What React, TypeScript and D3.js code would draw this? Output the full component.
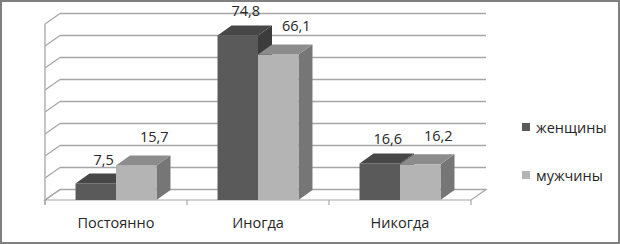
import React from "react";
import * as d3 from "d3";

const categories = ["Постоянно", "Иногда", "Никогда"];
const seriesNames = ["женщины", "мужчины"];
const womenValues = [7.5, 74.8, 16.6];
const menValues = [15.7, 66.1, 16.2];
const yTicks = [0, 10, 20, 30, 40, 50, 60, 70, 80];

const W = 620;
const H = 244;
const FONT = "'Open Sans', 'Noto Sans', sans-serif";

// colours per series: front, top, side
const palette = [
  { front: "#5a5a5a", top: "#474747", side: "#3c3c3c" },
  { front: "#b4b4b4", top: "#8c8c8c", side: "#767676" },
];
const labelShiftX = [8, 18];
const labelShiftY = [19, 23.5];

export default function App() {
  const series = [womenValues, menValues];
  const floorX0 = 45;
  const floorX1 = 471;
  const floorDx = 15;
  const floorDy = 10.5;
  const barDx = 14;
  const barDy = 10;

  const x0 = d3.scaleBand<string>().domain(categories).range([floorX0, floorX1]);
  const band = x0.bandwidth();
  const barW = band * 0.285;
  const x1 = d3
    .scaleBand<string>()
    .domain(seriesNames)
    .range([band / 2 - barW, band / 2 + barW]);
  const y = d3.scaleLinear().domain([0, 80]).range([200, 24]);

  const pts = (arr: number[][]) => arr.map((p) => p.join(",")).join(" ");

  const tickXs = [floorX0, ...categories.map((c) => (x0(c) as number) + band)];

  return (
    <div style={{ position: "fixed", left: 0, top: 0, width: W, height: H, background: "#fff" }}>
      <svg width={W} height={H} style={{ display: "block" }}>
        <rect x={0} y={0} width={W} height={H} fill="#fff" />
        {/* floor */}
        <polygon
          points={pts([
            [floorX0, y(0)],
            [floorX1, y(0)],
            [floorX1 + floorDx, y(0) - floorDy],
            [floorX0 + floorDx, y(0) - floorDy],
          ])}
          fill="#fff"
          stroke="#a6a6a6"
          strokeWidth={1.2}
        />
        {/* gridlines on back wall + left wall diagonals */}
        {yTicks.map((t) => (
          <g key={t}>
            <line
              x1={floorX0 + floorDx}
              x2={floorX1 + floorDx}
              y1={y(t) - floorDy}
              y2={y(t) - floorDy}
              stroke="#a6a6a6"
              strokeWidth={1.3}
            />
            <line
              x1={floorX0}
              x2={floorX0 + floorDx}
              y1={y(t)}
              y2={y(t) - floorDy}
              stroke="#a6a6a6"
              strokeWidth={1.2}
            />
          </g>
        ))}
        {/* front left axis */}
        <line x1={floorX0} x2={floorX0} y1={y(80)} y2={y(0) + 4.5} stroke="#a6a6a6" strokeWidth={1.3} />
        {/* category ticks */}
        {tickXs.map((tx, i) => (
          <line key={i} x1={tx} x2={tx} y1={y(0)} y2={y(0) + 5} stroke="#a6a6a6" strokeWidth={1.2} />
        ))}
        {/* bars */}
        {categories.map((c, ci) => (
          <g key={c}>
            {series.map((vals, si) => {
              const bx = (x0(c) as number) + (x1(seriesNames[si]) as number);
              const bw = x1.bandwidth();
              const top = y(vals[ci]);
              const bottom = y(0);
              const col = palette[si];
              return (
                <g key={si}>
                  <polygon
                    points={pts([
                      [bx + bw, top],
                      [bx + bw + barDx, top - barDy],
                      [bx + bw + barDx, bottom - barDy],
                      [bx + bw, bottom],
                    ])}
                    fill={col.side}
                  />
                  <rect x={bx} y={top} width={bw} height={bottom - top} fill={col.front} />
                  <polygon
                    points={pts([
                      [bx, top],
                      [bx + bw, top],
                      [bx + bw + barDx, top - barDy],
                      [bx + barDx, top - barDy],
                    ])}
                    fill={col.top}
                  />
                </g>
              );
            })}
          </g>
        ))}
        {/* data labels */}
        {categories.map((c, ci) =>
          series.map((vals, si) => {
            const bx = (x0(c) as number) + (x1(seriesNames[si]) as number);
            const bw = x1.bandwidth();
            return (
              <text
                key={c + si}
                x={bx + bw / 2 + labelShiftX[si]}
                y={y(vals[ci]) - labelShiftY[si]}
                textAnchor="middle"
                fontFamily={FONT}
                fontSize={14.5}
                fill="#262626"
              >
                {d3.format(".1f")(vals[ci]).replace(".", ",")}
              </text>
            );
          })
        )}
        {/* category labels */}
        {categories.map((c) => (
          <text
            key={c}
            x={(x0(c) as number) + band / 2}
            y={228}
            textAnchor="middle"
            fontFamily={FONT}
            fontSize={14.5}
            fill="#262626"
          >
            {c}
          </text>
        ))}
        {/* legend */}
        {seriesNames.map((s, i) => (
          <g key={s} transform={`translate(522, ${123 + i * 48})`}>
            <rect x={0} y={0} width={8} height={8} fill={palette[i].front} />
            <text x={14} y={9.5} fontFamily={FONT} fontSize={14.5} fill="#262626">
              {s}
            </text>
          </g>
        ))}
        {/* outer border */}
        <rect x={1} y={1} width={W - 2} height={H - 2} fill="none" stroke="#7f7f7f" strokeWidth={2} />
      </svg>
    </div>
  );
}
